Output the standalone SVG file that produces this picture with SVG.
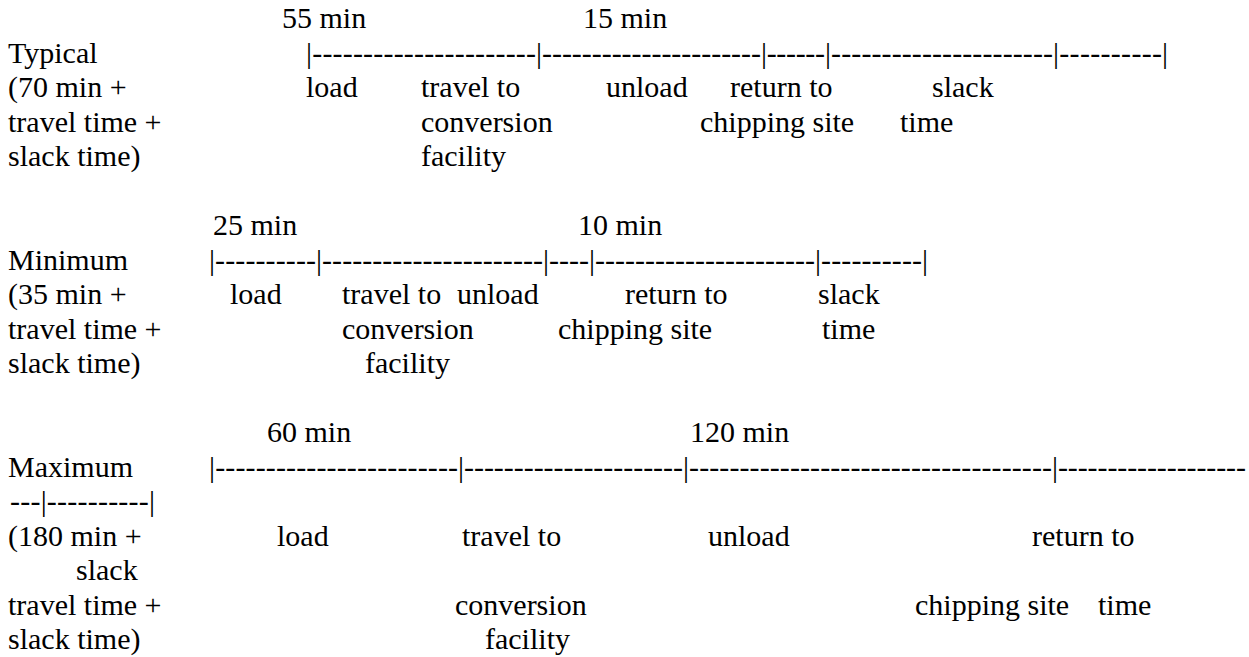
<svg xmlns="http://www.w3.org/2000/svg" width="1249" height="657" viewBox="0 0 1249 657" font-family="'Liberation Serif', 'Times New Roman', serif" font-size="30">
<style>
text{font-family:"Liberation Serif","Times New Roman",serif;font-size:30px;fill:#000}
</style>
<rect width="1249" height="657" fill="#fff"/>
<g id="typical">
<text x="282" y="28">55 min</text>
<text x="583" y="28">15 min</text>
<text x="8" y="62.5">Typical</text>
<text x="8" y="97">(70 min +</text>
<text x="8" y="131.5">travel time +</text>
<text x="8" y="166">slack time)</text>
<text x="306" y="97">load</text>
<text x="421" y="97">travel to</text>
<text x="421" y="131.5">conversion</text>
<text x="421" y="166">facility</text>
<text x="606" y="97">unload</text>
<text x="730" y="97">return to</text>
<text x="700" y="131.5">chipping site</text>
<text x="932" y="97">slack</text>
<text x="900" y="131.5">time</text>
</g>
<g id="minimum">
<text x="213" y="235">25 min</text>
<text x="578" y="235">10 min</text>
<text x="8" y="269.5">Minimum</text>
<text x="8" y="304">(35 min +</text>
<text x="8" y="338.5">travel time +</text>
<text x="8" y="373">slack time)</text>
<text x="230" y="304">load</text>
<text x="342" y="304">travel to</text>
<text x="342" y="338.5">conversion</text>
<text x="365" y="373">facility</text>
<text x="457" y="304">unload</text>
<text x="625" y="304">return to</text>
<text x="558" y="338.5">chipping site</text>
<text x="818" y="304">slack</text>
<text x="822" y="338.5">time</text>
</g>
<g id="maximum">
<text x="267" y="442">60 min</text>
<text x="690" y="442">120 min</text>
<text x="8" y="476.5">Maximum</text>
<text x="10" y="511" textLength="145" lengthAdjust="spacing">---|----------|</text>
<text x="8" y="545.5">(180 min +</text>
<text x="76" y="580">slack</text>
<text x="8" y="614.5">travel time +</text>
<text x="8" y="649">slack time)</text>
<text x="277" y="545.5">load</text>
<text x="462" y="545.5">travel to</text>
<text x="455" y="614.5">conversion</text>
<text x="485" y="649">facility</text>
<text x="708" y="545.5">unload</text>
<text x="1032" y="545.5">return to</text>
<text x="915" y="614.5">chipping site</text>
<text x="1098" y="614.5">time</text>
</g>
<g id="connectors">
<g id="timeline-typical">
<text x="306" y="62.5" textLength="230" lengthAdjust="spacing">|----------------------</text>
<text x="536" y="62.5" textLength="225" lengthAdjust="spacing">|----------------------</text>
<text x="761" y="62.5" textLength="64" lengthAdjust="spacing">|------</text>
<text x="825" y="62.5" textLength="228" lengthAdjust="spacing">|----------------------</text>
<text x="1053" y="62.5" textLength="109" lengthAdjust="spacing">|----------</text>
<text x="1162" y="62.5">|</text>
</g>
<g id="timeline-minimum">
<text x="209" y="269.5" textLength="107" lengthAdjust="spacing">|----------</text>
<text x="316" y="269.5" textLength="227" lengthAdjust="spacing">|----------------------</text>
<text x="543" y="269.5" textLength="46" lengthAdjust="spacing">|----</text>
<text x="589" y="269.5" textLength="226" lengthAdjust="spacing">|----------------------</text>
<text x="815" y="269.5" textLength="107" lengthAdjust="spacing">|----------</text>
<text x="922" y="269.5">|</text>
</g>
<g id="timeline-maximum">
<text x="209" y="476.5" textLength="249" lengthAdjust="spacing">|------------------------</text>
<text x="458" y="476.5" textLength="225" lengthAdjust="spacing">|----------------------</text>
<text x="683" y="476.5" textLength="369" lengthAdjust="spacing">|------------------------------------</text>
<text x="1052" y="476.5" textLength="194" lengthAdjust="spacing">|-------------------</text>
</g>
</g>
</svg>
